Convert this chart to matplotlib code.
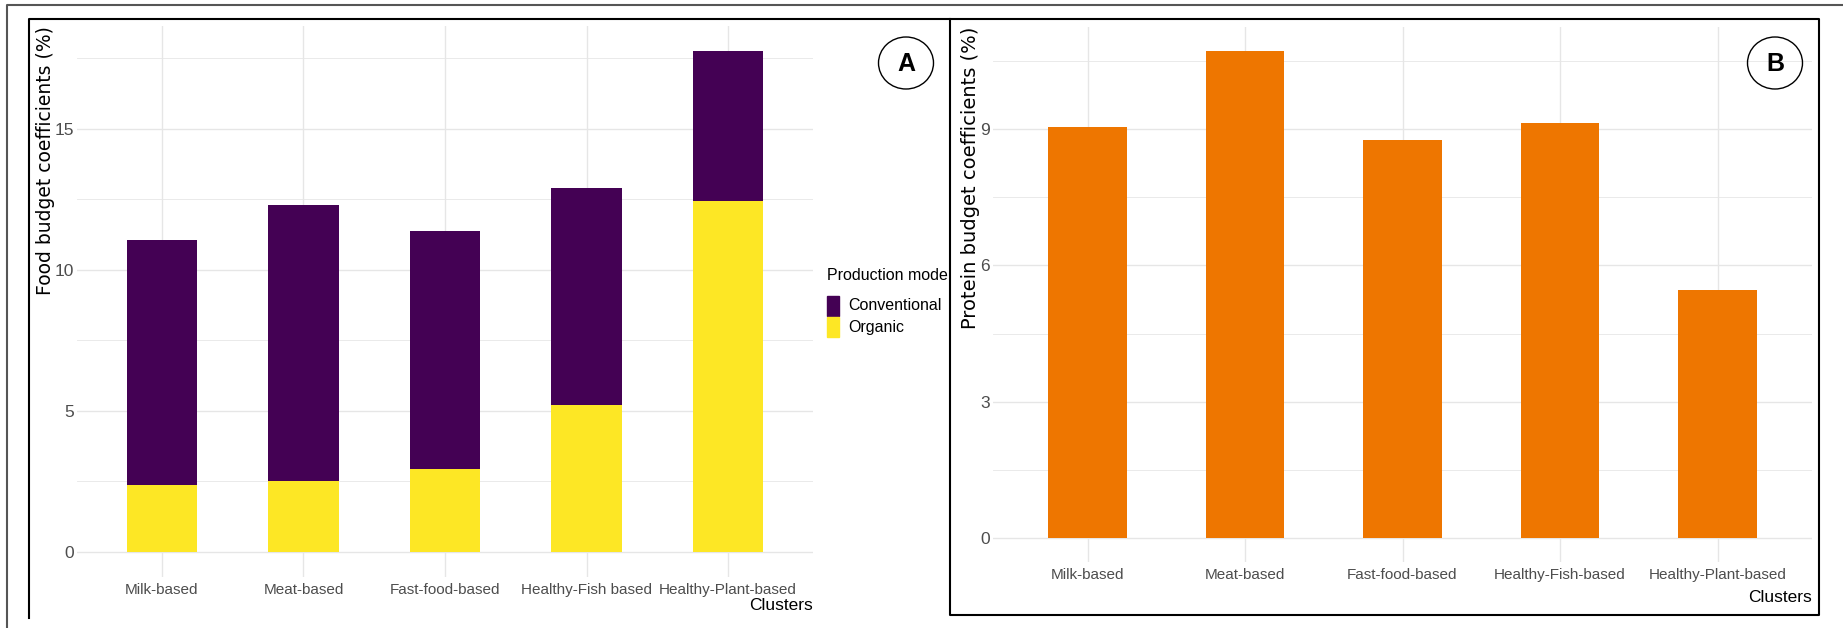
import matplotlib
matplotlib.use("Agg")
import matplotlib.pyplot as plt
from matplotlib.patches import Rectangle, Ellipse
from matplotlib.lines import Line2D
import numpy as np

# data
clusters_a = ["Milk-based", "Meat-based", "Fast-food-based", "Healthy-Fish based", "Healthy-Plant-based"]
total_a = [11.07, 12.29, 11.37, 12.90, 17.76]
organic_a = [2.36, 2.51, 2.94, 5.21, 12.43]
conventional_a = [t - o for t, o in zip(total_a, organic_a)]

clusters_b = ["Milk-based", "Meat-based", "Fast-food-based", "Healthy-Fish-based", "Healthy-Plant-based"]
protein_b = [9.05, 10.72, 8.77, 9.15, 5.46]

W, H = 1843, 628
fig = plt.figure(figsize=(W / 100, H / 100), dpi=100)

sans = ["Liberation Sans", "DejaVu Sans"]
purple = "#440154"
yellow = "#FDE725"
orange = "#EE7600"
grid_c = "#E6E6E6"


def fx(x):
    return x / W


def fy(y):
    return 1 - y / H


def make_axes(left, right, top, bottom):
    return fig.add_axes([fx(left), fy(bottom), (right - left) / W, (bottom - top) / H])


def style(ax, labels, ymax, major, minor):
    x = np.arange(len(labels))
    ax.set_xlim(-0.6, len(labels) - 0.4)
    ax.set_ylim(-0.05 * ymax, ymax * 1.05)
    ax.set_xticks(x)
    ax.set_xticklabels(labels, family=sans, fontsize=11, color="#4D4D4D")
    ax.set_yticks(major)
    ax.set_yticklabels([str(v) for v in major], family=sans, fontsize=12.5, color="#4D4D4D")
    ax.set_yticks(minor, minor=True)
    ax.tick_params(axis="both", which="both", length=0)
    ax.tick_params(axis="x", pad=4)
    ax.tick_params(axis="y", pad=2)
    ax.grid(True, which="major", color=grid_c, lw=1.0)
    ax.grid(True, which="minor", axis="y", color=grid_c, lw=0.6)
    ax.set_axisbelow(True)
    for s in ax.spines.values():
        s.set_visible(False)
    return x


# Panel A
axA = make_axes(77, 813, 26, 577)
xa = style(axA, clusters_a, max(total_a), [0, 5, 10, 15], [2.5, 7.5, 12.5, 17.5])
axA.bar(xa, organic_a, width=0.5, color=yellow, label="Organic")
axA.bar(xa, conventional_a, width=0.5, bottom=organic_a, color=purple, label="Conventional")

# Panel B
axB = make_axes(993, 1812, 27, 562)
xb = style(axB, clusters_b, max(protein_b), [0, 3, 6, 9], [1.5, 4.5, 7.5, 10.5])
axB.bar(xb, protein_b, width=0.5, color=orange)

# axis titles
fig.text(fx(46), fy(26), "Food budget coefficients (%)", rotation=90, ha="center", va="top",
         fontsize=13.5, family="DejaVu Sans")
fig.text(fx(970), fy(27), "Protein budget coefficients (%)", rotation=90, ha="center", va="top",
         fontsize=14, family="DejaVu Sans")
fig.text(fx(813), fy(605), "Clusters", ha="right", va="center", fontsize=12.5, family=sans)
fig.text(fx(1812), fy(598), "Clusters", ha="right", va="center", fontsize=12.5, family=sans)

# legend for panel A
fig.text(fx(827), fy(276), "Production mode", ha="left", va="center", fontsize=11.5, family=sans)
for i, (name, col) in enumerate([("Conventional", purple), ("Organic", yellow)]):
    top = 296 + i * 21
    fig.add_artist(Rectangle((fx(827), fy(top + 20)), 12 / W, 20 / H, color=col,
                             transform=fig.transFigure))
    fig.text(fx(848), fy(top + 10), name, ha="left", va="center", fontsize=11.5, family=sans)

# panel letters
for cx, letter in [(906, "A"), (1775, "B")]:
    fig.add_artist(Ellipse((fx(cx), fy(63)), 55 / W, 52 / H, fill=False, lw=1.0,
                           ec="black", transform=fig.transFigure))
    fig.text(fx(cx), fy(64), letter, ha="center", va="center", fontsize=18,
             fontweight="bold", family=sans)

# frames
def line(xs, ys, c, lw):
    fig.add_artist(Line2D([fx(v) for v in xs], [fy(v) for v in ys], color=c, lw=lw,
                          transform=fig.transFigure))


line([7, 7, 1843], [628, 5, 5], "#555555", 1.5)
line([29, 29, 1819, 1819, 950, 950], [618, 19, 19, 615, 615, 19], "black", 1.5)

fig.savefig("out.png", dpi=100)
